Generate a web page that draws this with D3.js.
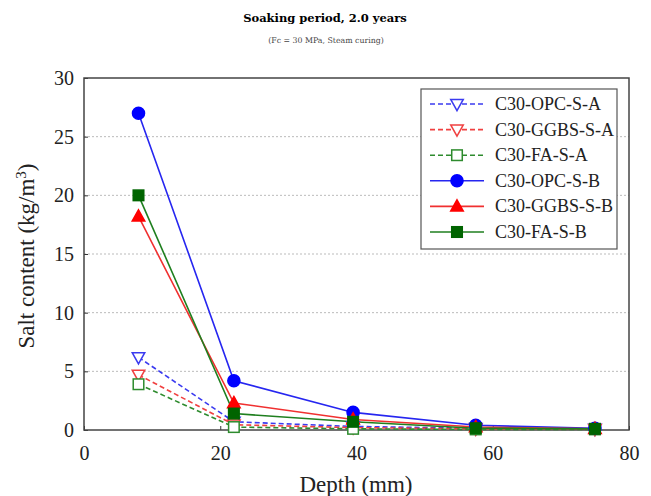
<!DOCTYPE html>
<html><head><meta charset="utf-8">
<script src="https://cdn.jsdelivr.net/npm/d3@7"></script>
<style>body{margin:0;background:#fff}</style>
</head><body>
<svg id="c" width="651" height="496"></svg>
<script>
const depths = [8, 22, 39.5, 57.5, 75];
const seriesNames = ["C30-OPC-S-A","C30-GGBS-S-A","C30-FA-S-A","C30-OPC-S-B","C30-GGBS-S-B","C30-FA-S-B"];
const opcA  = [6.2, 0.7, 0.3, 0.15, 0.1];
const ggbsA = [4.7, 0.45, 0.2, 0.1, 0.08];
const faA   = [3.9, 0.25, 0.1, 0.05, 0.05];
const opcB  = [27.0, 4.2, 1.5, 0.4, 0.15];
const ggbsB = [18.2, 2.3, 0.9, 0.25, 0.1];
const faB   = [20.0, 1.4, 0.7, 0.15, 0.1];
const xTicks = [0, 20, 40, 60, 80];
const yTicks = [0, 5, 10, 15, 20, 25, 30];

const styles = [
  {c:"#3b3bf0", dash:"5,3", m:"tridown", fill:false},
  {c:"#f04040", dash:"5,3", m:"tridown", fill:false},
  {c:"#2e8b2e", dash:"5,3", m:"square", fill:false},
  {c:"#2626f0", dash:null, m:"circle", fill:true, fc:"#0000ff"},
  {c:"#f03030", dash:null, m:"triangle", fill:true, fc:"#ff0000"},
  {c:"#1f7f1f", dash:null, m:"square", fill:true, fc:"#006400"}
];
const allVals = [opcA, ggbsA, faA, opcB, ggbsB, faB];

const svg = d3.select("#c");
const L=84, R=629, T=78, B=430;
const x = d3.scaleLinear().domain([0,80]).range([L,R]);
const y = d3.scaleLinear().domain([0,30]).range([B,T]);
const serif = "'DejaVu Serif', 'Liberation Serif', serif";
const lib = "'Liberation Serif', serif";

// title
svg.append("text").attr("x",325).attr("y",22).attr("text-anchor","middle")
  .attr("font-family",serif).attr("font-weight","bold").attr("font-size",11.5).text("Soaking period, 2.0 years");
svg.append("text").attr("x",326).attr("y",43).attr("text-anchor","middle")
  .attr("font-family",serif).attr("font-size",7.8).attr("fill","#444").text("(Fc = 30 MPa, Steam curing)");

// grid
svg.append("g").selectAll("line").data(yTicks.filter(d=>d>0&&d<30)).join("line")
  .attr("x1",L).attr("x2",R).attr("y1",d=>y(d)).attr("y2",d=>y(d))
  .attr("stroke","#bbb").attr("stroke-dasharray","2,2").attr("stroke-width",1);

// axes
const ya = svg.append("g").attr("transform",`translate(${L},0)`)
  .call(d3.axisLeft(y).tickValues(yTicks).tickSize(-4).tickPadding(10));
const xa = svg.append("g").attr("transform",`translate(0,${B})`)
  .call(d3.axisBottom(x).tickValues(xTicks).tickSize(-4).tickPadding(16));
[ya,xa].forEach(a=>{
  a.select(".domain").remove();
  a.selectAll("text").attr("font-family",lib).attr("font-size",20).attr("fill","#222");
  a.selectAll("line").attr("stroke","#333");
});
svg.append("rect").attr("x",L).attr("y",T).attr("width",R-L).attr("height",B-T)
  .attr("fill","none").attr("stroke","#444").attr("stroke-width",1.5);

svg.append("text").attr("x",356).attr("y",492).attr("text-anchor","middle")
  .attr("font-family",lib).attr("font-size",23).attr("fill","#222").text("Depth (mm)");
const yl = svg.append("text").attr("transform","translate(34,256) rotate(-90)").attr("text-anchor","middle")
  .attr("font-family",lib).attr("font-size",23).attr("fill","#222");
yl.append("tspan").text("Salt content (kg/m");
yl.append("tspan").attr("dy",-8).attr("font-size",15).text("3");
yl.append("tspan").attr("dy",8).text(")");

function marker(g, s, cx, cy, size){
  const fill = s.fill ? s.fc : "#fff";
  const sw = 1.5;
  if(s.m==="circle"){
    g.append("circle").attr("cx",cx).attr("cy",cy).attr("r",size*0.55).attr("fill",fill).attr("stroke",s.fc||s.c).attr("stroke-width",sw);
  } else if(s.m==="square"){
    const h=size*0.48;
    g.append("rect").attr("x",cx-h).attr("y",cy-h).attr("width",2*h).attr("height",2*h).attr("fill",fill).attr("stroke",s.fill?s.fc:s.c).attr("stroke-width",sw);
  } else if(s.m==="triangle"){
    const h=size*0.6;
    g.append("path").attr("d",`M${cx},${cy-h}L${cx+h*0.95},${cy+h*0.7}L${cx-h*0.95},${cy+h*0.7}Z`).attr("fill",fill).attr("stroke",s.fc).attr("stroke-width",sw);
  } else {
    const h=size*0.6;
    g.append("path").attr("d",`M${cx},${cy+h}L${cx+h*0.95},${cy-h*0.7}L${cx-h*0.95},${cy-h*0.7}Z`).attr("fill",fill).attr("stroke",s.c).attr("stroke-width",sw);
  }
}

const line = d3.line().x((d,i)=>x(depths[i])).y(d=>y(d));
const plot = svg.append("g");
allVals.forEach((vals,k)=>{
  const s = styles[k];
  plot.append("path").datum(vals).attr("d",line).attr("fill","none").attr("stroke",s.c)
    .attr("stroke-width",1.6).attr("stroke-dasharray",s.dash);
});
allVals.forEach((vals,k)=>{
  const s = styles[k];
  vals.forEach((v,i)=> marker(plot, s, x(depths[i]), y(v), 11));
});

// legend
const lg = svg.append("g");
lg.append("rect").attr("x",421).attr("y",89).attr("width",196).attr("height",160).attr("fill","#fff").attr("stroke","#555").attr("stroke-width",1.2);
seriesNames.forEach((n,k)=>{
  const s = styles[k];
  const yy = 104 + k*25.6;
  lg.append("line").attr("x1",430).attr("x2",484).attr("y1",yy).attr("y2",yy).attr("stroke",s.c).attr("stroke-width",1.6).attr("stroke-dasharray",s.dash);
  marker(lg, s, 457, yy, 11);
  lg.append("text").attr("x",495).attr("y",yy+6).attr("font-family",lib).attr("font-size",18).attr("fill","#222").text(n);
});
</script>
</body></html>
